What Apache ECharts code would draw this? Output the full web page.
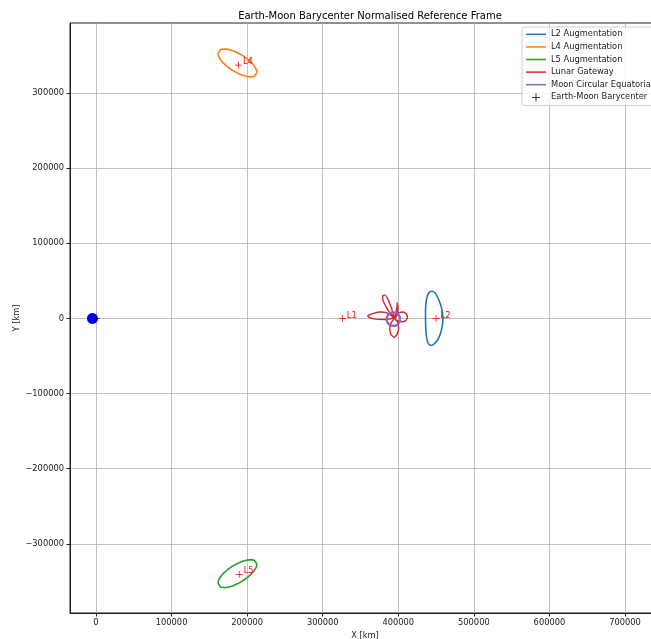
<!DOCTYPE html>
<html>
<head>
<meta charset="utf-8">
<script src="https://cdn.jsdelivr.net/npm/echarts@6/dist/echarts.min.js"></script>
<style>
  html, body { margin: 0; padding: 0; background: #fff; }
  #chart { width: 651px; height: 639px; }
</style>
</head>
<body>
<div id="chart"></div>
<script>
// Orbits in the Earth-Moon barycentric frame, [x km, y km]
const l2Augmentation = [
  [459000, 0], [458500, -8000], [457000, -16000], [454000, -25000], [449000, -32500],
  [444000, -36000], [440000, -34000], [437500, -26000], [436500, -15000], [436000, 0],
  [436200, 15000], [437500, 26000], [440000, 33500], [444000, 36000], [448500, 34000],
  [452500, 27000], [456000, 18000], [458300, 9000], [459000, 0]
];
const l4Augmentation = [
  [213000, 327210], [212120, 331170], [209540, 335710], [205440, 340550], [200100, 345340],
  [193880, 349760], [187200, 353500], [180520, 356320], [174300, 358020], [168960, 358490],
  [164860, 357690], [162280, 355670], [161400, 352590], [162280, 348630], [164860, 344090],
  [168960, 339250], [174300, 334460], [180520, 330040], [187200, 326300], [193880, 323480],
  [200100, 321780], [205440, 321310], [209540, 322110], [212120, 324130], [213000, 327210]
];
const l5Augmentation = [
  [213000, -326910], [212120, -330870], [209540, -335410], [205440, -340250], [200100, -345040],
  [193880, -349460], [187200, -353200], [180520, -356020], [174300, -357720], [168960, -358190],
  [164860, -357390], [162280, -355370], [161400, -352290], [162280, -348330], [164860, -343790],
  [168960, -338950], [174300, -334160], [180520, -329740], [187200, -326000], [193880, -323180],
  [200100, -321480], [205440, -321010], [209540, -321810], [212120, -323830], [213000, -326910]
];
const lunarGateway = [
  [394000, 1000],
  [386000, 7000], [376000, 8500], [368000, 7000], [361500, 4500], [359500, 3000],
  [362000, 1000], [370000, -1000], [381000, -1500], [390000, -500], [394000, 1000],
  [388500, 8000], [383500, 16000], [379500, 25000], [379500, 30500], [382500, 31000],
  [386500, 25000], [390500, 15000], [393500, 5000], [395000, 1000],
  [397000, 9000], [398500, 16000], [398500, 20500], [399500, 16000], [399000, 8000], [396500, 1000],
  [401000, 7500], [407000, 8500], [411000, 5500], [412000, 1000], [410000, -3000],
  [404000, -4500], [398000, -2500], [395000, 0],
  [390500, -6000], [388800, -14000], [390000, -21000], [394500, -25500], [398500, -21000],
  [400300, -13000], [399000, -5000], [394000, 1000]
];
const moonCircular = [
  [402400, -1000], [401720, 2410], [399790, 5290], [396910, 7220], [393500, 7900],
  [390090, 7220], [387210, 5290], [385280, 2410], [384600, -1000], [385280, -4410],
  [387210, -7290], [390090, -9220], [393500, -9900], [396910, -9220], [399790, -7290],
  [401720, -4410], [402400, -1000]
];

// Lagrange points
const lagrangeNames = ['L1', 'L2', 'L4', 'L5'];
const lagrangeX = [326000, 450000, 188500, 189500];
const lagrangeY = [0, 0, 337000, -340500];

// Bodies
const barycenter = [0, 0];
const earth = [-4670, 0];

// Axis ticks
const xTicks = [0, 100000, 200000, 300000, 400000, 500000, 600000, 700000];
const yTicks = [-300000, -200000, -100000, 0, 100000, 200000, 300000];

const PLUS = 'path://M-0.1,-1 L0.1,-1 L0.1,-0.1 L1,-0.1 L1,0.1 L0.1,0.1 L0.1,1 L-0.1,1 L-0.1,0.1 L-1,0.1 L-1,-0.1 L-0.1,-0.1 Z';
const BAR = 'path://M0,0 L20,0 L20,1.5 L0,1.5 Z';
const FONT = 'DejaVu Sans';
const FS = 8.3;

const fmt = v => (v < 0 ? '\u2212' + Math.abs(v) : String(v));

function orbit(name, data, color, width, smooth) {
  return {
    name, type: 'line', data, showSymbol: false, symbol: 'none',
    smooth, lineStyle: { color, width, join: 'round' }, itemStyle: { color },
    silent: true, z: 3
  };
}

const chart = echarts.init(document.getElementById('chart'), null, { renderer: 'canvas' });
chart.setOption({
  animation: false,
  backgroundColor: '#fff',
  title: {
    text: 'Earth-Moon Barycenter Normalised Reference Frame',
    left: 365, top: 6, textAlign: 'center',
    textStyle: { fontFamily: FONT, fontSize: 10, fontWeight: 'normal', color: '#000' }
  },
  grid: {
    left: 70, top: 23, width: 590, height: 590,
    outerBoundsMode: 'none', containLabel: false,
    show: true, borderColor: '#222', borderWidth: 1, backgroundColor: 'transparent'
  },
  legend: {
    orient: 'vertical', left: 522, top: 27,
    padding: [1, 8, 2, 4], itemGap: 0, itemWidth: 20, itemHeight: 8,
    backgroundColor: 'rgba(255,255,255,0.8)', borderColor: '#d0d0d0', borderWidth: 1, borderRadius: 3,
    textStyle: { fontFamily: FONT, fontSize: FS, color: '#222', lineHeight: 12.6 },
    data: [
      { name: 'L2 Augmentation', icon: BAR },
      { name: 'L4 Augmentation', icon: BAR },
      { name: 'L5 Augmentation', icon: BAR },
      { name: 'Lunar Gateway', icon: BAR },
      { name: 'Moon Circular Equatorial', icon: BAR },
      { name: 'Earth-Moon Barycenter', icon: PLUS }
    ]
  },
  xAxis: {
    type: 'value', min: -34400, max: 746300,
    name: 'X [km]', nameLocation: 'middle', nameGap: 16,
    nameTextStyle: { fontFamily: FONT, fontSize: FS, color: '#222' },
    axisLine: { show: true, onZero: false, lineStyle: { color: '#222', width: 1 } },
    axisTick: { show: true, length: 3.5, customValues: xTicks, lineStyle: { color: '#222' } },
    axisLabel: { customValues: xTicks, formatter: fmt, margin: 6, fontFamily: FONT, fontSize: FS, color: '#222' },
    splitLine: { show: true, lineStyle: { color: '#b0b0b0', width: 0.8 } }
  },
  yAxis: {
    type: 'value', min: -392000, max: 393000,
    name: 'Y [km]', nameLocation: 'middle', nameGap: 49, nameRotate: 90, nameMoveOverlap: false,
    nameTextStyle: { fontFamily: FONT, fontSize: FS, color: '#222' },
    axisLine: { show: true, onZero: false, lineStyle: { color: '#222', width: 1 } },
    axisTick: { show: true, length: 3.5, customValues: yTicks, lineStyle: { color: '#222' } },
    axisLabel: { customValues: yTicks, formatter: fmt, margin: 6, fontFamily: FONT, fontSize: FS, color: '#222' },
    splitLine: { show: true, lineStyle: { color: '#b0b0b0', width: 0.8 } }
  },
  series: [
    orbit('L2 Augmentation', l2Augmentation, '#1f77b4', 1.6, 0.3),
    orbit('L4 Augmentation', l4Augmentation, '#ff7f0e', 1.6, false),
    orbit('L5 Augmentation', l5Augmentation, '#2ca02c', 1.6, false),
    orbit('Lunar Gateway', lunarGateway, '#d62728', 1.4, 0.15),
    Object.assign(orbit('Moon Circular Equatorial', moonCircular, '#9467bd', 2.4, 0.3), { z: 4 }),
    {
      name: 'Earth', type: 'scatter', data: [earth], symbol: 'circle', symbolSize: 11,
      itemStyle: { color: '#0000ff', opacity: 1 }, silent: true, z: 5
    },
    {
      name: 'Earth-Moon Barycenter', type: 'scatter', data: [barycenter], symbol: PLUS, symbolSize: 7,
      itemStyle: { color: '#000', opacity: 1 }, silent: true, z: 6
    },
    {
      name: 'Lagrange Points', type: 'scatter', symbol: PLUS, symbolSize: 7,
      data: lagrangeNames.map((n, i) => ({ name: n, value: [lagrangeX[i], lagrangeY[i]] })),
      itemStyle: { color: '#ff0000', opacity: 1 }, silent: true, z: 6,
      label: {
        show: true, position: 'right', distance: 1, offset: [0, -3],
        formatter: p => p.name, fontFamily: FONT, fontSize: FS, color: '#ff0000'
      }
    }
  ]
});
</script>
</body>
</html>
